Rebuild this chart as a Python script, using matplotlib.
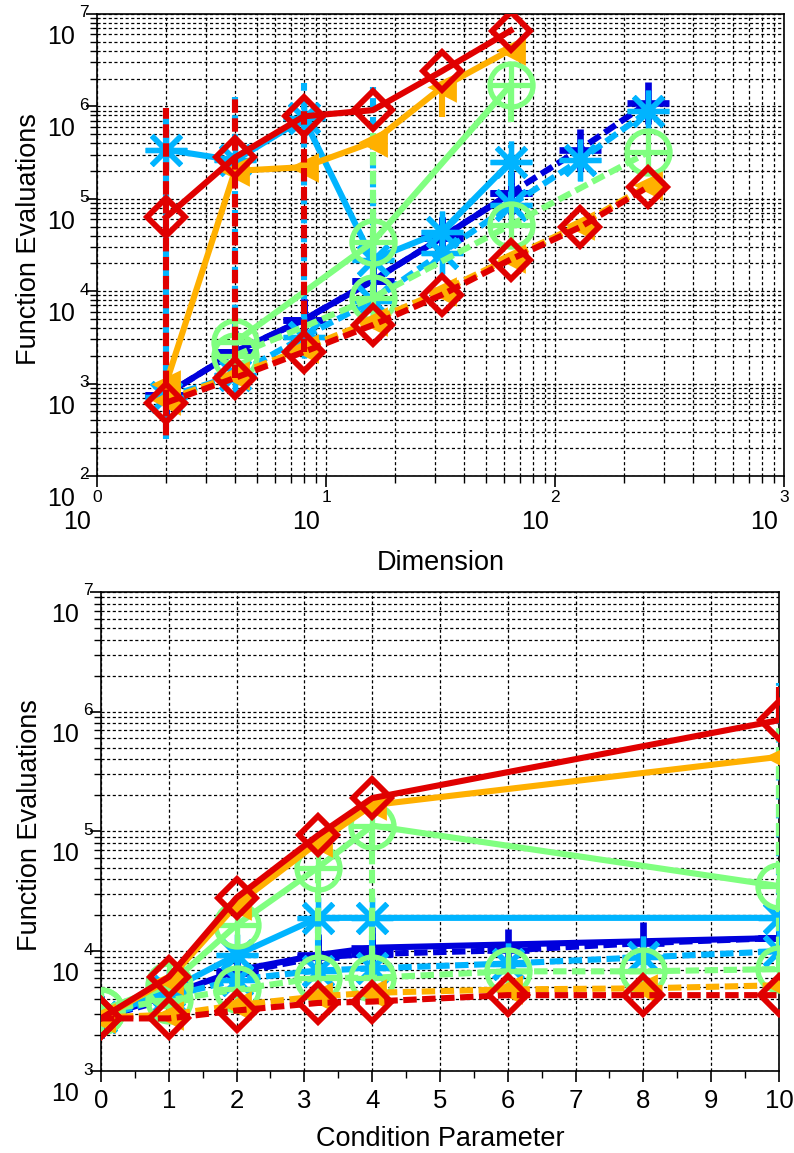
import numpy as np
import matplotlib
matplotlib.use('Agg')
import matplotlib.pyplot as plt
from matplotlib.ticker import LogLocator, NullFormatter, MultipleLocator
from matplotlib.transforms import offset_copy

plt.rcParams['font.family'] = ['Liberation Sans', 'DejaVu Sans']

# ---------------- top panel: function evaluations vs dimension ----------------
dim_solid = [2, 4, 8, 16, 32, 64]
dim_dashed = [2, 4, 8, 16, 32, 64, 128, 256]
dim_green_solid = [4, 16, 64]
dim_green_dashed = [4, 16, 64, 256]

dim_blue_s = [760, 2.2e3, 4.9e3, 1.3e4, 3.8e4, 1.15e5]
dim_lblue_s = [3.4e5, 2.6e5, 7.4e5, 2.2e4, 4.4e4, 2.5e5]
dim_green_s = [2.8e3, 3.4e4, 1.7e6]
dim_orange_s = [1.0e3, 2.0e5, 2.2e5, 4.1e5, 1.6e6, 4.1e6]
dim_red_s = [6.3e4, 2.8e5, 7.8e5, 9.1e5, 2.4e6, 6.6e6]

dim_blue_d = [760, 2.2e3, 4.9e3, 1.3e4, 3.8e4, 1.15e5, 3.4e5, 1.1e6]
dim_lblue_d = [710, 1.23e3, 3.2e3, 7.9e3, 2.6e4, 8.5e4, 2.6e5, 8.9e5]
dim_green_d = [2.0e3, 8.5e3, 5.2e4, 3.2e5]
dim_orange_d = [660, 1.23e3, 2.4e3, 4.8e3, 1.0e4, 2.3e4, 5.2e4, 1.4e5]
dim_red_d = [620, 1.15e3, 2.2e3, 4.3e3, 9.1e3, 2.2e4, 4.9e4, 1.35e5]

# spread bars (nan = no bar)
nan = np.nan
dim_lblue_d_lo = [250, nan, nan, nan, nan, nan, nan, nan]
dim_lblue_d_hi = [9.6e5, 1.25e6, 1.8e6, 1.6e6, nan, 3.8e5, nan, nan]
dim_green_d_hi = [nan, 5.1e5, nan, nan]
dim_red_d_lo = [250, nan, nan, nan, nan, nan, nan, nan]
dim_red_d_hi = [9.6e5, 1.25e6, 1.0e6, nan, nan, nan, nan, nan]
dim_green_s_lo = [nan, nan, 6.8e5]
dim_orange_s_lo = [nan, nan, nan, nan, 7.6e5, nan]

# ---------------- bottom panel: function evaluations vs condition ----------------
cond_solid = [0, 1, 2, 3.2, 4, 10]
cond_dashed = [0, 1, 2, 3.2, 4, 6, 8, 10]

cond_blue_s = [2.8e3, 4.3e3, 6.9e3, 9.3e3, 1.07e4, 1.29e4]
cond_lblue_s = [2.8e3, 4.7e3, 9.3e3, 1.9e4, 1.9e4, 1.9e4]
cond_green_s = [3.2e3, 5.2e3, 1.66e4, 5.0e4, 1.12e5, 3.5e4]
cond_orange_s = [2.75e3, 5.8e3, 2.45e4, 8.1e4, 1.66e5, 4.2e5]
cond_red_s = [2.75e3, 6.1e3, 2.8e4, 9.3e4, 1.9e5, 8.5e5]

cond_blue_d = [2.8e3, 4.0e3, 6.6e3, 8.9e3, 9.5e3, 1.02e4, 1.17e4, 1.29e4]
cond_lblue_d = [2.8e3, 4.2e3, 5.8e3, 6.9e3, 7.2e3, 7.9e3, 8.9e3, 1.0e4]
cond_green_d = [3.2e3, 3.9e3, 4.8e3, 6.0e3, 6.0e3, 6.8e3, 6.8e3, 7.1e3]
cond_orange_d = [2.8e3, 2.95e3, 3.55e3, 4.2e3, 4.5e3, 4.8e3, 4.9e3, 5.2e3]
cond_red_d = [2.75e3, 2.75e3, 3.2e3, 3.7e3, 3.8e3, 4.3e3, 4.3e3, 4.3e3]

cond_lblue_d_hi = [nan, nan, nan, 1.9e4, 1.9e4, nan, nan, 1.75e6]
cond_green_d_hi = [nan, nan, nan, 4.5e4, 1.0e5, nan, nan, 1.0e6]
cond_red_s_hi = [nan, nan, nan, nan, nan, 1.6e6]

# colours and markers (jet-like)
BLUE = '#0000dc'
LBLUE = '#00b4ff'
GREEN = '#80ff80'
ORANGE = '#ffb000'
RED = '#e00000'

LW = 4.4
DASH = (0, (2.2, 0.9))
GRID = (0, (2.5, 2.0))


def draw(ax, x, y, color, marker, dashed, z, lo=None, hi=None):
    ls = DASH if dashed else '-'
    x = np.asarray(x, float)
    y = np.asarray(y, float)
    for lim in (lo, hi):
        if lim is None:
            continue
        lim = np.asarray(lim, float)
        ok = ~np.isnan(lim)
        ax.vlines(x[ok], y[ok], lim[ok], colors=color, linestyles=ls,
                  lw=LW, zorder=z)
    if marker == 'D':
        ax.plot(x, y, ls=ls, color=color, lw=LW, marker='D', ms=19,
                mfc='none', mec=color, mew=4.2, zorder=z)
    elif marker == '<':
        ax.plot(x, y, ls=ls, color=color, lw=LW, marker='<', ms=18,
                mfc=color, mec=color, mew=2, zorder=z)
    elif marker == 'o+':
        ax.plot(x, y, ls=ls, color=color, lw=LW, marker='o', ms=31,
                mfc='none', mec=color, mew=3.8, zorder=z)
        ax.plot(x, y, ls='none', marker='+', ms=31, mec=color, mew=3.8,
                zorder=z)
    elif marker == '*':
        ax.plot(x, y, ls=ls, color=color, lw=LW, marker=(8, 2, 0), ms=30,
                mec=color, mew=3.8, zorder=z)
    else:
        ax.plot(x, y, ls=ls, color=color, lw=LW, marker='+', ms=30,
                mec=color, mew=4.8, zorder=z)


def style(ax, fig):
    for s in ax.spines.values():
        s.set_linewidth(1.2)
        s.set_color('k')
    ax.tick_params(which='major', direction='out', length=8, width=1.2,
                   top=False, right=False)
    ax.tick_params(which='minor', direction='out', length=5, width=1.0,
                   top=False, right=False)
    ax.yaxis.set_major_locator(LogLocator(base=10, numticks=20))
    ax.yaxis.set_minor_locator(LogLocator(base=10, subs=np.arange(2, 10),
                                          numticks=20))
    ax.yaxis.set_major_formatter(NullFormatter())
    ax.yaxis.set_minor_formatter(NullFormatter())
    lo, hi = ax.get_ylim()
    ytr = ax.get_yaxis_transform()
    for k in range(int(round(np.log10(lo))), int(round(np.log10(hi))) + 1):
        ax.text(0, 10.0 ** k, '10', fontsize=18, ha='right', va='center',
                transform=offset_copy(ytr, fig, x=-22, y=-23, units='dots'))
        ax.text(0, 10.0 ** k, str(k), fontsize=12.5, ha='right', va='center',
                transform=offset_copy(ytr, fig, x=-8, y=1, units='dots'))
    ax.set_ylabel('Function Evaluations', fontsize=19.5)
    ax.yaxis.set_label_coords(-0.08, 0.512)


fig = plt.figure(figsize=(7.94, 11.53), dpi=100)

# ---------------- top axes ----------------
ax1 = fig.add_axes([0.1222, 0.5872, 0.8652, 0.4007])
ax1.set_xscale('log')
ax1.set_yscale('log')
ax1.set_xlim(1, 1000)
ax1.set_ylim(1e2, 1e7)

z = 3
draw(ax1, dim_solid, dim_blue_s, BLUE, '+', False, z)
draw(ax1, dim_dashed, dim_blue_d, BLUE, '+', True, z + 1)
draw(ax1, dim_solid, dim_lblue_s, LBLUE, '*', False, z + 2)
draw(ax1, dim_dashed, dim_lblue_d, LBLUE, '*', True, z + 3,
     lo=dim_lblue_d_lo, hi=dim_lblue_d_hi)
draw(ax1, dim_green_solid, dim_green_s, GREEN, 'o+', False, z + 4,
     lo=dim_green_s_lo)
draw(ax1, dim_green_dashed, dim_green_d, GREEN, 'o+', True, z + 5,
     hi=dim_green_d_hi)
draw(ax1, dim_solid, dim_orange_s, ORANGE, '<', False, z + 6,
     lo=dim_orange_s_lo)
draw(ax1, dim_dashed, dim_orange_d, ORANGE, '<', True, z + 7)
draw(ax1, dim_solid, dim_red_s, RED, 'D', False, z + 8)
draw(ax1, dim_dashed, dim_red_d, RED, 'D', True, z + 9,
     lo=dim_red_d_lo, hi=dim_red_d_hi)

ax1.xaxis.set_major_locator(LogLocator(base=10, numticks=20))
ax1.xaxis.set_minor_locator(LogLocator(base=10, subs=np.arange(2, 10),
                                       numticks=20))
ax1.xaxis.set_major_formatter(NullFormatter())
ax1.xaxis.set_minor_formatter(NullFormatter())
ax1.grid(True, which='both', color='k', ls=GRID, lw=0.9)
ax1.set_axisbelow(True)
style(ax1, fig)
xtr = ax1.get_xaxis_transform()
for k in range(0, 4):
    ax1.text(10.0 ** k, 0, str(k), fontsize=12.5, ha='center', va='center',
             transform=offset_copy(xtr, fig, x=0, y=-22, units='dots'))
    ax1.text(10.0 ** k, 0, '10', fontsize=18, ha='center', va='center',
             transform=offset_copy(xtr, fig, x=-20, y=-46, units='dots'))
ax1.set_xlabel('Dimension', fontsize=19.5)
ax1.xaxis.set_label_coords(0.5, -0.16)

# ---------------- bottom axes ----------------
ax2 = fig.add_axes([0.1272, 0.0711, 0.8539, 0.4155])
ax2.set_yscale('log')
ax2.set_xlim(0, 10)
ax2.set_ylim(1e3, 1e7)

draw(ax2, cond_solid, cond_blue_s, BLUE, '+', False, z)
draw(ax2, cond_dashed, cond_blue_d, BLUE, '+', True, z + 1)
draw(ax2, cond_solid, cond_lblue_s, LBLUE, '*', False, z + 2)
draw(ax2, cond_dashed, cond_lblue_d, LBLUE, '*', True, z + 3,
     hi=cond_lblue_d_hi)
draw(ax2, cond_solid, cond_green_s, GREEN, 'o+', False, z + 4)
draw(ax2, cond_dashed, cond_green_d, GREEN, 'o+', True, z + 5,
     hi=cond_green_d_hi)
draw(ax2, cond_solid, cond_orange_s, ORANGE, '<', False, z + 6)
draw(ax2, cond_dashed, cond_orange_d, ORANGE, '<', True, z + 7)
draw(ax2, cond_solid, cond_red_s, RED, 'D', False, z + 8, hi=cond_red_s_hi)
draw(ax2, cond_dashed, cond_red_d, RED, 'D', True, z + 9)

ax2.xaxis.set_major_locator(MultipleLocator(1))
ax2.xaxis.set_minor_locator(MultipleLocator(0.5))
ax2.xaxis.grid(True, which='major', color='k', ls=GRID, lw=0.9)
ax2.yaxis.grid(True, which='both', color='k', ls=GRID, lw=0.9)
ax2.set_axisbelow(True)
style(ax2, fig)
ax2.tick_params(axis='x', which='major', labelsize=18.5, pad=5)
ax2.set_xlabel('Condition Parameter', fontsize=19.5)
ax2.xaxis.set_label_coords(0.5, -0.114)
ax2.yaxis.set_label_coords(-0.085, 0.514)

fig.savefig('out.png', dpi=100)
